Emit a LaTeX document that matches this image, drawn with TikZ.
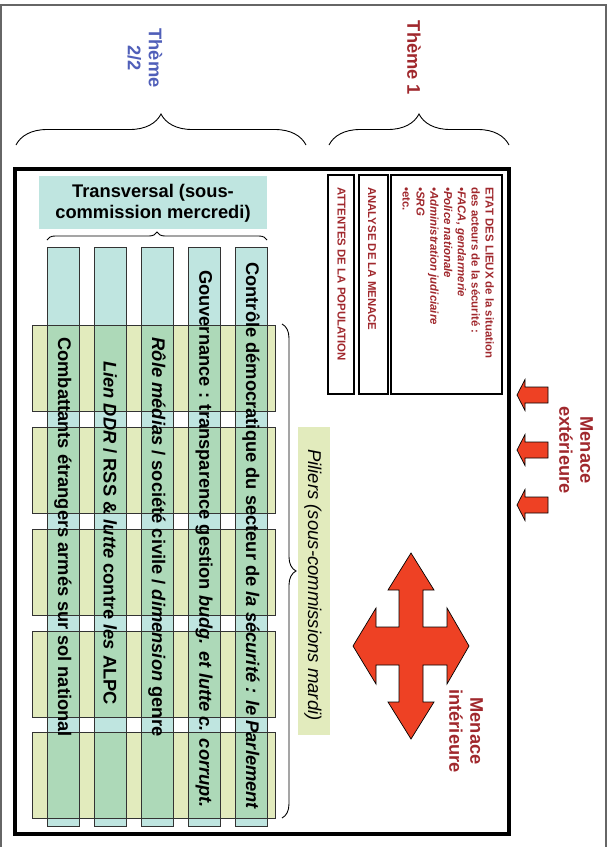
\documentclass[tikz,border=0pt]{standalone}
\usepackage{fontspec}
\setmainfont{Liberation Sans}
\usetikzlibrary{decorations.pathreplacing}
\definecolor{tealfill}{RGB}{95,190,177}
\definecolor{tealbox}{RGB}{191,229,224}
\definecolor{bandfill}{RGB}{226,235,189}
\definecolor{redtxt}{RGB}{160,40,45}
\definecolor{bluetxt}{RGB}{80,95,185}
\definecolor{arrowred}{RGB}{238,65,36}
\tikzset{
  bigtxt/.style={font=\fontsize{18.3}{21}\selectfont\bfseries, inner sep=0pt},
  coltext/.style={bigtxt, rotate=-90},
  smalltxt/.style={font=\fontsize{11.4}{13.8}\selectfont\bfseries, text=redtxt, inner sep=0pt, rotate=-90},
  bracestyle/.style={decorate, decoration={brace, amplitude=#1}, line width=0.9pt},
  outline/.style={draw=black!80, line width=0.9pt},
  arrowstyle/.style={fill=arrowred, draw=black, line width=0.7pt, line join=miter},
  themebox/.style={draw=black, line width=1.2pt}
}
\begin{document}
\begin{tikzpicture}[x=1pt,y=-1pt]
\useasboundingbox (0,0) rectangle (607,847);
% outer slide frame
\draw[gray!80!black, line width=1.6pt] (1,847) -- (1,5) -- (606,5) -- (606,847);

% theme labels and braces
\node[bigtxt, text=bluetxt, rotate=-90, align=center] (t2) at (145,58) {Thème\\2/2};
\node[bigtxt, text=redtxt, rotate=-90] (t1) at (414,58) {Thème 1};
\coordinate (b2a) at (16,145); \coordinate (b2b) at (306,145);
\coordinate (b1a) at (329,145); \coordinate (b1b) at (509,145);
\draw[bracestyle=31] (b2a) -- (b2b);
\draw[bracestyle=31] (b1a) -- (b1b);

% main thick frame
\draw[line width=4.5pt] (15,169) rectangle (509,834);

% theme 1 boxes
\draw[themebox] (391,175) rectangle (502,394);
\draw[themebox] (359,175) rectangle (388,394);
\draw[themebox] (328,175) rectangle (354,394);
\node[smalltxt, anchor=north west, align=left] (etat) at (494,187)
  {ETAT DES LIEUX de la situation\\des acteurs de la sécurité :\\\textit{•FACA, gendarmerie}\\\textit{•Police nationale}\\\textit{•Administration judiciaire}\\\textit{•SRG}\\•etc.};
\node[smalltxt, anchor=west] (analyse) at (372,187) {ANALYSE DE LA MENACE};
\node[smalltxt, anchor=west] (attentes) at (341.5,187) {ATTENTES DE LA POPULATION};

% transversal box
\fill[tealbox] (39,176) rectangle (267,229);
\node[bigtxt, align=center] (trans) at (153,203) {Transversal (sous-\\commission mercredi)};
\coordinate (bta) at (47,240); \coordinate (btb) at (267,240);
\draw[bracestyle=8] (bta) -- (btb);

% bands
\foreach \y in {325,427,529,631,732} {
  \fill[bandfill] (32,\y) rectangle (275,{\y+86});
}
% columns
\foreach \x in {47,94,141,188,235} {
  \fill[tealfill, fill opacity=0.4] (\x,247) rectangle ({\x+32},826);
}
\foreach \y in {325,427,529,631,732} {
  \draw[outline] (32,\y) rectangle (275,{\y+86});
}
\foreach \x in {47,94,141,188,235} {
  \draw[outline] (\x,247) rectangle ({\x+32},826);
}
\node[coltext] (c5) at (251,536) {Contrôle démocratique du secteur de \textit{la sécurité : le Parlement}};
\node[coltext] (c4) at (204,539) {Gouvernance : transparence gestion \textit{budg. et lutte c. corrupt.}};
\node[coltext] (c3) at (157,537) {\textit{Rôle médias} / société civile / \textit{dimension} genre};
\node[coltext] (c2) at (110,533) {\textit{Lien DDR} / RSS \& \textit{lutte} contre \textit{les} ALPC};
\node[coltext] (c1) at (63,537) {Combattants étrangers armés sur sol national};

% piliers
\coordinate (bpa) at (282,324); \coordinate (bpb) at (282,818);
\draw[bracestyle=14] (bpa) -- (bpb);
\fill[bandfill] (298,427) rectangle (330,735);
\node[rotate=-90, font=\fontsize{18.5}{21}\selectfont\itshape, inner sep=0pt] (pil) at (313,585) {Piliers (sous-commissions mardi)};

% menace exterieure arrows
\foreach \c in {395,450,505} {
  \draw[arrowstyle] (517,\c) -- (525,{\c-15.5}) -- (525,{\c-8}) -- (548,{\c-8}) -- (548,{\c+8}) -- (525,{\c+8}) -- (525,{\c+15.5}) -- cycle;
}
\node[bigtxt, text=redtxt, rotate=-90, align=center] (mext) at (576,450) {Menace\\extérieure};

% menace interieure four-way arrow
\draw[arrowstyle] (411,553) -- (434,590) -- (423,590) -- (423,627) -- (447,627) -- (447,608)
  -- (469,646) -- (447,684) -- (447,665) -- (423,665) -- (423,702) -- (434,702)
  -- (411,739) -- (388,702) -- (399,702) -- (399,665) -- (376,665) -- (376,684)
  -- (353,646) -- (376,608) -- (376,627) -- (399,627) -- (399,590) -- (388,590) -- cycle;
\node[bigtxt, text=redtxt, rotate=-90, align=center] (mint) at (466,731) {Menace\\intérieure};
\end{tikzpicture}
\end{document}
